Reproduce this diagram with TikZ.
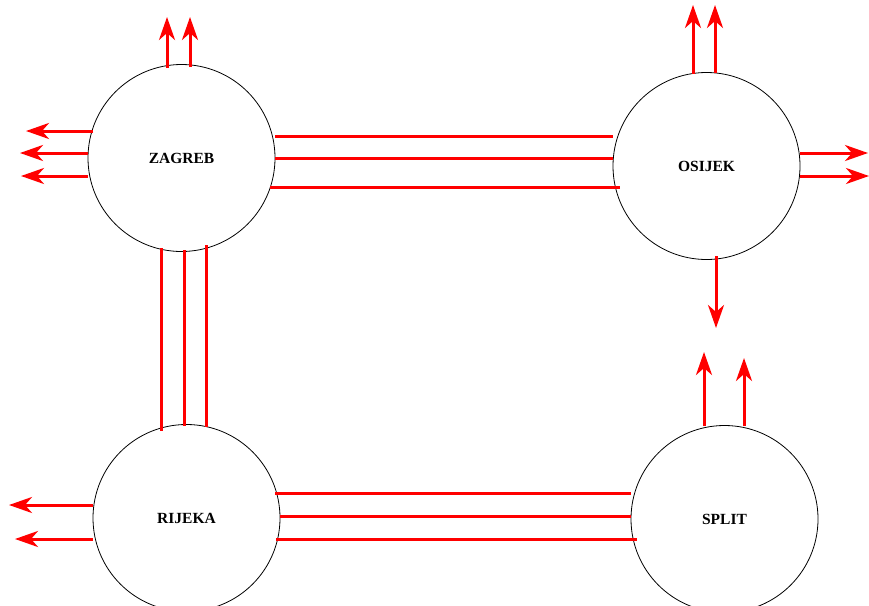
\documentclass[tikz,border=0pt]{standalone}
\usepackage{fontspec}
\setmainfont{Liberation Serif}
\usetikzlibrary{arrows.meta}
\begin{document}
\begin{tikzpicture}[x=1pt,y=-1pt,
  city/.style={circle,draw=black,line width=0.8pt,minimum size=187pt,inner sep=0pt,
    font=\fontsize{15.5}{18}\selectfont\bfseries},
  link/.style={draw=red,line width=3pt},
  outarrow/.style={link,-{Stealth[length=23pt,width=16pt,inset=7pt]}}]
\useasboundingbox (0,0) rectangle (869,605);
\node[city] (zag) at (181.5,158) {ZAGREB};
\node[city] (osi) at (706.5,166) {OSIJEK};
\node[city] (rij) at (186.5,518) {RIJEKA};
\node[city] (spl) at (724.5,519) {SPLIT};
% Zagreb - Osijek
\coordinate (zo1a) at (275,136); \coordinate (zo1b) at (613,136);
\coordinate (zo2a) at (275,158); \coordinate (zo2b) at (613,158);
\coordinate (zo3a) at (270,187); \coordinate (zo3b) at (620,187);
\draw[link] (zo1a) -- (zo1b);
\draw[link] (zo2a) -- (zo2b);
\draw[link] (zo3a) -- (zo3b);
% Zagreb - Rijeka
\coordinate (zr1a) at (161,248); \coordinate (zr1b) at (161,431);
\coordinate (zr2a) at (184,250); \coordinate (zr2b) at (184,426);
\coordinate (zr3a) at (206,245); \coordinate (zr3b) at (206,427);
\draw[link] (zr1a) -- (zr1b);
\draw[link] (zr2a) -- (zr2b);
\draw[link] (zr3a) -- (zr3b);
% Rijeka - Split
\coordinate (rs1a) at (275,493); \coordinate (rs1b) at (631,493);
\coordinate (rs2a) at (280,516); \coordinate (rs2b) at (631,516);
\coordinate (rs3a) at (276,539); \coordinate (rs3b) at (637,539);
\draw[link] (rs1a) -- (rs1b);
\draw[link] (rs2a) -- (rs2b);
\draw[link] (rs3a) -- (rs3b);
% Zagreb outgoing
\coordinate (zl1a) at (93,131); \coordinate (zl1b) at (26,131);
\coordinate (zl2a) at (88,153); \coordinate (zl2b) at (20,153);
\coordinate (zl3a) at (88,176); \coordinate (zl3b) at (21,176);
\draw[outarrow] (zl1a) -- (zl1b);
\draw[outarrow] (zl2a) -- (zl2b);
\draw[outarrow] (zl3a) -- (zl3b);
\coordinate (zt1a) at (167,68); \coordinate (zt1b) at (167,17);
\coordinate (zt2a) at (190,67); \coordinate (zt2b) at (190,17);
\draw[outarrow] (zt1a) -- (zt1b);
\draw[outarrow] (zt2a) -- (zt2b);
% Osijek outgoing
\coordinate (ot1a) at (693,74); \coordinate (ot1b) at (693,5);
\coordinate (ot2a) at (715,73); \coordinate (ot2b) at (715,5);
\draw[outarrow] (ot1a) -- (ot1b);
\draw[outarrow] (ot2a) -- (ot2b);
\coordinate (or1a) at (800,153); \coordinate (or1b) at (868,153);
\coordinate (or2a) at (800,176); \coordinate (or2b) at (869,176);
\draw[outarrow] (or1a) -- (or1b);
\draw[outarrow] (or2a) -- (or2b);
\coordinate (od1a) at (716,256); \coordinate (od1b) at (716,328);
\draw[outarrow] (od1a) -- (od1b);
% Split outgoing
\coordinate (su1a) at (704,426); \coordinate (su1b) at (704,352);
\coordinate (su2a) at (744,426); \coordinate (su2b) at (744,358);
\draw[outarrow] (su1a) -- (su1b);
\draw[outarrow] (su2a) -- (su2b);
% Rijeka outgoing
\coordinate (rl1a) at (93,505); \coordinate (rl1b) at (9,505);
\coordinate (rl2a) at (93,539); \coordinate (rl2b) at (15,539);
\draw[outarrow] (rl1a) -- (rl1b);
\draw[outarrow] (rl2a) -- (rl2b);
\end{tikzpicture}
\end{document}
